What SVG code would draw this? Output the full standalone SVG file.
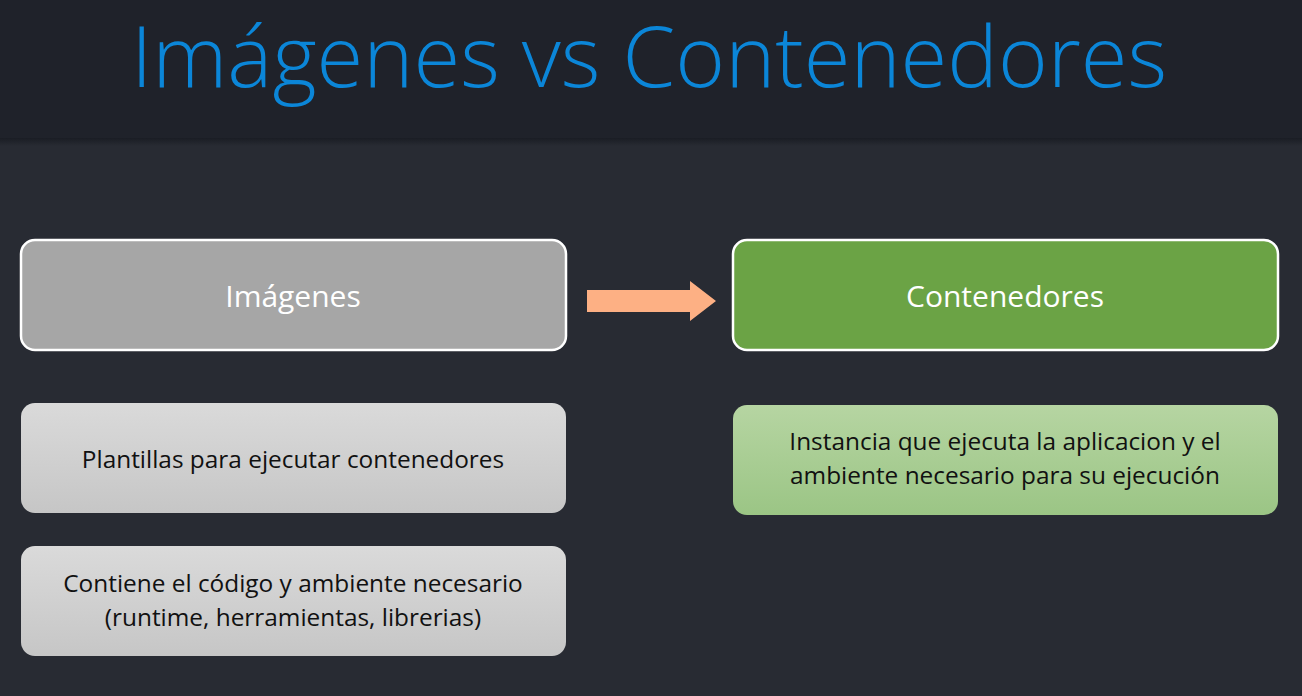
<svg xmlns="http://www.w3.org/2000/svg" width="1302" height="696" viewBox="0 0 1302 696">
  <defs>
    <linearGradient id="grayFill" x1="0" y1="0" x2="0" y2="1">
      <stop offset="0" stop-color="#dadada"/>
      <stop offset="1" stop-color="#c6c6c6"/>
    </linearGradient>
    <linearGradient id="greenFill" x1="0" y1="0" x2="0" y2="1">
      <stop offset="0" stop-color="#b6d5a2"/>
      <stop offset="1" stop-color="#9bc585"/>
    </linearGradient>
    <linearGradient id="bandShadow" x1="0" y1="0" x2="0" y2="1">
      <stop offset="0" stop-color="#1a1d24"/>
      <stop offset="1" stop-color="#282b33"/>
    </linearGradient>
    <style>
      .title { font-family: "Open Sans", "Noto Sans", sans-serif; font-weight: 300; font-size: 85px; fill: #0b86d8; }
      .head { fill: #a6a6a6; stroke: #ffffff; stroke-width: 2.5; }
      .headGreen { fill: #6ba345; stroke: #ffffff; stroke-width: 2.5; }
      .headLabel { font-family: "Open Sans", "Noto Sans", sans-serif; font-size: 30px; fill: #ffffff; text-anchor: middle; }
      .note { font-family: "Open Sans", "Noto Sans", sans-serif; font-size: 24.4px; fill: #111111; text-anchor: middle; }
    </style>
  </defs>

  <!-- background and title band -->
  <rect x="0" y="0" width="1302" height="696" fill="#282b33"/>
  <rect x="0" y="0" width="1302" height="138" fill="#1f222a"/>
  <rect x="0" y="138" width="1302" height="8" fill="url(#bandShadow)"/>
  <text class="title" x="649" y="87" text-anchor="middle">Imágenes vs Contenedores</text>

  <!-- nodes -->
  <g id="imagenes">
    <rect class="head" x="21" y="240" width="545" height="110" rx="14"/>
    <text class="headLabel" x="293" y="307">Imágenes</text>
  </g>
  <g id="contenedores">
    <rect class="headGreen" x="733" y="240" width="545" height="110" rx="14"/>
    <text class="headLabel" x="1005" y="307">Contenedores</text>
  </g>
  <g id="plantillas">
    <rect x="21" y="403" width="545" height="110" rx="14" fill="url(#grayFill)"/>
    <text class="note" x="293" y="468">Plantillas para ejecutar contenedores</text>
  </g>
  <g id="contiene">
    <rect x="21" y="546" width="545" height="110" rx="14" fill="url(#grayFill)"/>
    <text class="note" x="293" y="592">Contiene el código y ambiente necesario</text>
    <text class="note" x="293" y="626">(runtime, herramientas, librerias)</text>
  </g>
  <g id="instancia">
    <rect x="733" y="405" width="545" height="110" rx="14" fill="url(#greenFill)"/>
    <text class="note" x="1005" y="450">Instancia que ejecuta la aplicacion y el</text>
    <text class="note" x="1005" y="484">ambiente necesario para su ejecución</text>
  </g>

  <!-- connectors -->
  <g id="connectors">
    <path d="M587 290 H690 V281 L716 301 L690 321 V312 H587 Z" fill="#fdb084"/>
  </g>
</svg>
